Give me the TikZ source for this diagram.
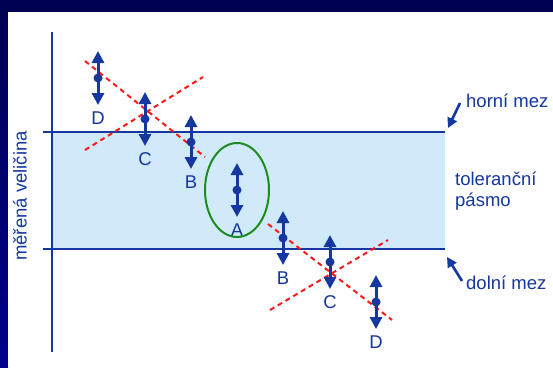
\documentclass[tikz,border=0pt]{standalone}
\usepackage{fontspec}
\setmainfont{Liberation Sans}
\usetikzlibrary{arrows.meta}
\definecolor{slidenavy}{RGB}{0,0,80}
\definecolor{slideblue}{RGB}{0,0,140}
\definecolor{inkblue}{RGB}{20,55,160}
\definecolor{bandblue}{RGB}{208,234,250}
\definecolor{ovalgreen}{RGB}{30,140,30}
\definecolor{fitred}{RGB}{255,25,25}

\begin{document}
\begin{tikzpicture}[x=1pt, y=-1pt, font=\fontsize{18.5}{21}\selectfont,
  bar/.style={inkblue, line width=3pt, {Triangle[width=12pt,length=12pt]}-{Triangle[width=12pt,length=12pt]}},
  fitline/.style={fitred, line width=2pt, dash pattern=on 5pt off 4pt},
  limit/.style={inkblue, line width=1.8pt},
  callout/.style={inkblue, line width=2.6pt, -{Triangle[width=10pt,length=10pt]}},
  txt/.style={inkblue, inner sep=0pt}]

% slide frame
\useasboundingbox (0,0) rectangle (553,367);
\shade[top color=slidenavy, bottom color=slideblue] (0,0) rectangle (8,367);
\fill[slidenavy] (0,0) rectangle (553,12);
\fill[white] (8,12) rectangle (553,367);

% tolerance band and limits
\fill[bandblue] (52,132) rectangle (445,249);
\draw[limit] (43,132) -- (445,132);
\draw[limit] (43,249) -- (445,249);
\draw[limit, line width=2.4pt] (52,32) -- (52,352);

\node[txt, rotate=90] (ylabel) at (20,196) {měřená veličina};

% fitted trends
\coordinate (f1a) at (85,61);   \coordinate (f1b) at (205,157);
\coordinate (f2a) at (85,150);  \coordinate (f2b) at (203,77);
\coordinate (f3a) at (268,224); \coordinate (f3b) at (392,320);
\coordinate (f4a) at (270,310); \coordinate (f4b) at (388,240);
\draw[fitline] (f1a) -- (f1b);
\draw[fitline] (f2a) -- (f2b);
\draw[fitline] (f3a) -- (f3b);
\draw[fitline] (f4a) -- (f4b);

% measured values with spread
\foreach \n/\x/\y/\l in {d1/98/78/D, c1/145/119/C, b1/191/142/B, a/237/190/A, b2/283/238/B, c2/330/262/C, d2/376/302/D} {
  \coordinate (\n) at (\x,\y);
  \coordinate (\n top) at (\x,\y-27);
  \coordinate (\n bot) at (\x,\y+27);
  \draw[bar] (\n bot) -- (\n top);
  \fill[inkblue] (\n) circle (4.5);
  \node[txt] (\n lbl) at (\x,\y+40) {\l};
}

\draw[ovalgreen, line width=2pt] (a) ellipse (32 and 47);

% labels on the right
\node[txt, anchor=west] (upper) at (466,101) {horní mez};
\node[txt, anchor=west, align=left] (band) at (455,191) {toleranční\\pásmo};
\node[txt, anchor=west] (lower) at (466,283) {dolní mez};
\coordinate (upper tip) at (448,128);
\coordinate (lower tip) at (447,257);
\draw[callout] (460,103) -- (upper tip);
\draw[callout] (462,281) -- (lower tip);

\end{tikzpicture}
\end{document}
